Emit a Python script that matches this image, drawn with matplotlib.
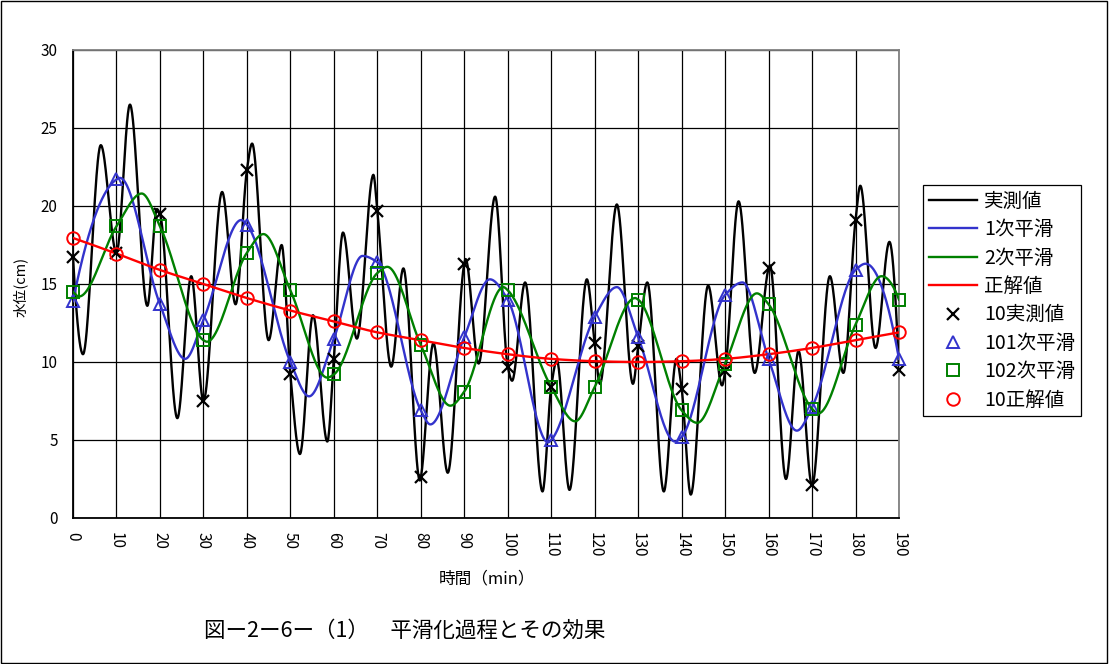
import numpy as np
import matplotlib
matplotlib.use('Agg')
import matplotlib.pyplot as plt
from matplotlib.patches import Rectangle

plt.rcParams['font.family'] = ['Noto Sans CJK JP', 'DejaVu Sans']

# ---- data ----
minutes10 = list(range(0, 191, 10))
measured10 = [16.7, 17.0, 19.5, 7.5, 22.3, 9.2, 10.2, 19.7, 2.6, 16.3,
              9.7, 8.4, 11.2, 11.0, 8.3, 9.4, 16.0, 2.1, 19.1, 9.5]
smooth1_10 = [13.9, 21.7, 13.7, 12.7, 18.8, 10.0, 11.5, 16.4, 6.9, 11.6,
              14.0, 5.0, 12.9, 11.6, 5.2, 14.3, 10.2, 7.1, 15.9, 10.2]
smooth2_10 = [14.5, 18.7, 18.7, 11.4, 17.0, 14.6, 9.2, 15.7, 11.1, 8.1,
              14.6, 8.4, 8.4, 14.0, 6.9, 9.9, 13.7, 7.0, 12.4, 14.0]
truth10 = [17.95, 16.95, 15.9, 15.0, 14.1, 13.3, 12.6, 11.9, 11.4, 10.9,
           10.5, 10.2, 10.05, 10.0, 10.05, 10.2, 10.5, 10.9, 11.4, 11.9]

# turning points of the continuous curves (minute, value)
measured_peak_min = [2.3, 6.4, 13.1, 17.1, 19.3, 24.0, 27.2, 34.3, 37.4, 41.2,
                     45.0, 48.0, 52.2, 55.2, 58.5, 62.1, 65.3, 69.1, 73.2, 76.0,
                     79.8, 82.9, 86.2, 90.3, 93.3, 97.1, 101.0, 104.0, 108.0, 111.3,
                     114.2, 118.2, 121.2, 125.1, 128.8, 132.1, 135.9, 138.8, 142.1, 146.1,
                     149.3, 153.1, 156.8, 160.3, 164.0, 166.9, 174.1, 177.2, 181.1, 184.6,
                     187.8]
measured_peak_val = [10.5, 23.9, 26.5, 13.6, 19.8, 6.4, 15.5, 20.9, 13.7, 24.0,
                     11.4, 17.5, 4.1, 13.0, 4.9, 18.3, 11.5, 22.0, 9.7, 16.0,
                     2.4, 11.2, 2.9, 16.6, 9.9, 20.6, 8.8, 15.1, 1.7, 10.1,
                     1.8, 15.3, 8.6, 20.1, 8.6, 15.1, 1.7, 10.2, 1.5, 14.9,
                     8.5, 20.3, 9.3, 16.2, 2.5, 10.7, 15.5, 9.3, 21.3, 10.9,
                     17.7]
smooth1_peak_min = [10.8, 25.8, 38.7, 54.3, 66.6, 82.2, 95.9, 109.3, 125.1, 138.5,
                    154.0, 166.5, 182.3]
smooth1_peak_val = [21.8, 10.2, 19.1, 7.8, 16.8, 6.0, 15.3, 4.85, 14.8, 4.9,
                    15.1, 5.6, 16.3]
smooth2_peak_min = [1.4, 15.8, 30.8, 43.8, 58.5, 72.3, 86.8, 99.0, 115.5, 129.3,
                    143.6, 157.3, 171.4, 186.0]
smooth2_peak_val = [14.2, 20.8, 11.3, 18.2, 9.0, 16.1, 7.2, 14.8, 6.2, 14.1,
                    6.1, 14.4, 6.7, 15.5]

labels = ['実測値', '1次平滑', '2次平滑', '正解値',
          '10実測値', '101次平滑', '102次平滑', '10正解値']
blue = '#3333CC'
green = '#008000'
red = '#FF0000'


def pchip(x, y, xn):
    x = np.asarray(x, float)
    y = np.asarray(y, float)
    h = np.diff(x)
    d = np.diff(y) / h
    n = len(x)
    m = np.zeros(n)
    for k in range(1, n - 1):
        if d[k - 1] * d[k] <= 0:
            m[k] = 0.0
        else:
            w1 = 2 * h[k] + h[k - 1]
            w2 = h[k] + 2 * h[k - 1]
            m[k] = (w1 + w2) / (w1 / d[k - 1] + w2 / d[k])

    def endpt(h0, h1, d0, d1):
        mm = ((2 * h0 + h1) * d0 - h0 * d1) / (h0 + h1)
        if np.sign(mm) != np.sign(d0):
            mm = 0.0
        elif np.sign(d0) != np.sign(d1) and abs(mm) > abs(3 * d0):
            mm = 3 * d0
        return mm
    m[0] = endpt(h[0], h[1], d[0], d[1])
    m[-1] = endpt(h[-1], h[-2], d[-1], d[-2])
    idx = np.clip(np.searchsorted(x, xn) - 1, 0, n - 2)
    t = (xn - x[idx]) / h[idx]
    h00 = 2 * t**3 - 3 * t**2 + 1
    h10 = t**3 - 2 * t**2 + t
    h01 = -2 * t**3 + 3 * t**2
    h11 = t**3 - t**2
    return (h00 * y[idx] + h10 * h[idx] * m[idx]
            + h01 * y[idx + 1] + h11 * h[idx] * m[idx + 1])


def curve(xm, ym, xp, yp):
    xs = np.array(list(xm) + list(xp), float)
    ys = np.array(list(ym) + list(yp), float)
    o = np.argsort(xs)
    xs, ys = xs[o], ys[o]
    xn = np.linspace(0, 190, 2000)
    return xn, pchip(xs, ys, xn)


fig = plt.figure(figsize=(11.09, 6.64), dpi=100)
ax = fig.add_axes([73 / 1109, 1 - 518 / 664, (899 - 73) / 1109, (518 - 50) / 664])

ax.set_xlim(0, 190)
ax.set_ylim(0, 30)
ax.set_xticks(minutes10)
ax.set_yticks(range(0, 31, 5))
ax.grid(True, color='black', linewidth=0.9)
ax.set_axisbelow(True)

xb, yb = curve(minutes10, measured10, measured_peak_min, measured_peak_val)
x1, y1 = curve(minutes10, smooth1_10, smooth1_peak_min, smooth1_peak_val)
x2, y2 = curve(minutes10, smooth2_10, smooth2_peak_min, smooth2_peak_val)
xr, yr = curve(minutes10, truth10, [], [])

ax.plot(xb, yb, color='black', lw=1.7, label=labels[0], zorder=3)
ax.plot(x1, y1, color=blue, lw=1.7, label=labels[1], zorder=3)
ax.plot(x2, y2, color=green, lw=1.7, label=labels[2], zorder=3)
ax.plot(xr, yr, color=red, lw=1.7, label=labels[3], zorder=3)

ax.plot(minutes10, measured10, ls='none', marker='x', ms=9, mew=1.6,
        color='black', label=labels[4], zorder=4, clip_on=False)
ax.plot(minutes10, smooth1_10, ls='none', marker='^', ms=9, mew=1.4,
        mfc='none', mec=blue, label=labels[5], zorder=4, clip_on=False)
ax.plot(minutes10, smooth2_10, ls='none', marker='s', ms=8.5, mew=1.4,
        mfc='none', mec=green, label=labels[6], zorder=4, clip_on=False)
ax.plot(minutes10, truth10, ls='none', marker='o', ms=9, mew=1.4,
        mfc='none', mec=red, label=labels[7], zorder=4, clip_on=False)

ax.tick_params(axis='both', length=0, labelsize=11)
ax.tick_params(axis='y', pad=11)
ax.tick_params(axis='x', pad=10)
for lab in ax.get_xticklabels():
    lab.set_rotation(-90)
    lab.set_va('top')
    lab.set_ha('center')

for s in ['left', 'bottom']:
    ax.spines[s].set_color('black')
    ax.spines[s].set_linewidth(1.3)
for s in ['top', 'right']:
    ax.spines[s].set_color('#808080')
    ax.spines[s].set_linewidth(1.3)

fig.text(20 / 1109, 1 - 287 / 664, '水位(cm)', rotation=90, ha='center', va='center', fontsize=10.5)
fig.text(487 / 1109, 1 - 579 / 664, '時間（min）', ha='center', va='center', fontsize=12)
fig.text(405 / 1109, 1 - 631 / 664, '図ー2ー6ー（1）　平滑化過程とその効果',
         ha='center', va='center', fontsize=15.5)

leg = ax.legend(loc='upper left', bbox_to_anchor=(923 / 1109, 1 - 185 / 664),
                bbox_transform=fig.transFigure, fontsize=14, frameon=True,
                fancybox=False, edgecolor='black', framealpha=1,
                handlelength=2.5, handletextpad=0.35, labelspacing=0.38,
                borderpad=0.3, borderaxespad=0)
leg.get_frame().set_linewidth(0.9)

fig.patches.append(Rectangle((0.0005, 0.0008), 0.998, 0.998, transform=fig.transFigure,
                             fill=False, edgecolor='black', linewidth=1.0))

fig.savefig('out.png', dpi=100)
